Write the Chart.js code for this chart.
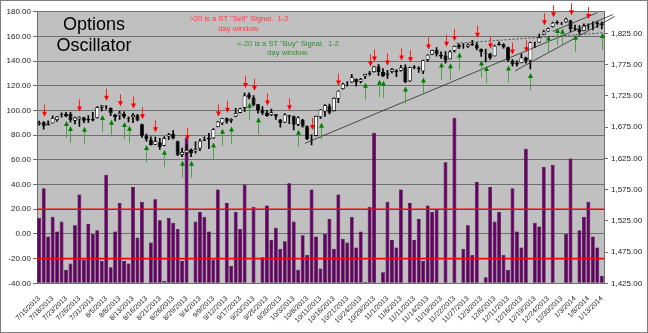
<!DOCTYPE html>
<html>
<head>
<meta charset="utf-8">
<script src="https://cdn.jsdelivr.net/npm/chart.js@4.4.0/dist/chart.umd.min.js"></script>
<style>
  html, body { margin: 0; padding: 0; background: #fff; }
  #wrap { position: relative; width: 646px; height: 331px; border: 1px solid #7f7f7f; }
  canvas { display: block; }
  .note { position: absolute; font-family: "Liberation Sans", Arial, sans-serif; text-align: center; white-space: pre; }
</style>
</head>
<body>
<div id="wrap">
  <canvas id="osc" width="646" height="331"></canvas>
  <div class="note" style="left:33px; top:13px; width:120px; font-size:18px; line-height:21px; color:#000;">Options
Oscillator</div>
  <div class="note" style="left:163px; top:12.5px; width:150px; font-size:7.6px; line-height:10px; color:#ff3b3b;">&gt;20 is a ST "Sell" Signal.  1-2
day window.</div>
  <div class="note" style="left:212px; top:37.5px; width:150px; font-size:7.6px; line-height:9.5px; color:#2f8f2f;">&lt;-20 is a ST "Buy" Signal.  1-2
day window.</div>
</div>
<script>
// trading days shown on the category axis
const dates = [
  "7/15/2013","7/16/2013","7/17/2013","7/18/2013","7/19/2013","7/22/2013","7/23/2013","7/24/2013","7/25/2013","7/26/2013",
  "7/29/2013","7/30/2013","7/31/2013","8/1/2013","8/2/2013","8/5/2013","8/6/2013","8/7/2013","8/8/2013","8/9/2013",
  "8/12/2013","8/13/2013","8/14/2013","8/15/2013","8/16/2013","8/19/2013","8/20/2013","8/21/2013","8/22/2013","8/23/2013",
  "8/26/2013","8/27/2013","8/28/2013","8/29/2013","8/30/2013","9/3/2013","9/4/2013","9/5/2013","9/6/2013","9/9/2013",
  "9/10/2013","9/11/2013","9/12/2013","9/13/2013","9/16/2013","9/17/2013","9/18/2013","9/19/2013","9/20/2013","9/23/2013",
  "9/24/2013","9/25/2013","9/26/2013","9/27/2013","9/30/2013","10/1/2013","10/2/2013","10/3/2013","10/4/2013","10/7/2013",
  "10/8/2013","10/9/2013","10/10/2013","10/11/2013","10/14/2013","10/15/2013","10/16/2013","10/17/2013","10/18/2013","10/21/2013",
  "10/22/2013","10/23/2013","10/24/2013","10/25/2013","10/28/2013","10/29/2013","10/30/2013","10/31/2013","11/1/2013","11/4/2013",
  "11/5/2013","11/6/2013","11/7/2013","11/8/2013","11/11/2013","11/12/2013","11/13/2013","11/14/2013","11/15/2013","11/18/2013",
  "11/19/2013","11/20/2013","11/21/2013","11/22/2013","11/25/2013","11/26/2013","11/27/2013","11/29/2013","12/2/2013","12/3/2013",
  "12/4/2013","12/5/2013","12/6/2013","12/9/2013","12/10/2013","12/11/2013","12/12/2013","12/13/2013","12/16/2013","12/17/2013",
  "12/18/2013","12/19/2013","12/20/2013","12/23/2013","12/24/2013","12/26/2013","12/27/2013","12/30/2013","12/31/2013","1/2/2014",
  "1/3/2014","1/6/2014","1/7/2014","1/8/2014","1/9/2014","1/10/2014","1/13/2014"
];

// options oscillator, left axis (bars below -40 fall off the plot)
const oscillator = [
  13, 37, -2, 14, 2, 10, -29, -24, 7, 32,
  -21, 8, 0, 3, -22, 48, -27, 2, 25, -22,
  -24, 38, -3, 26, -45, -7, 28, 11, -38, 13,
  9, 4, -22, 78, -45, 10, 18, 14, 2, -21,
  36, -45, 25, -26, 18, 4, 40, -45, 22, -45,
  -19, 23, -5, 5, -12, -6, 41, 10, -29, -1,
  -17, 36, -2, -28, 0, 12, -12, 32, -4, -7,
  14, -11, 2, -39, 22, 82, -45, -31, 26, -5,
  -11, 36, -45, 25, -5, 12, -22, 23, 18, 19.5,
  -45, 58, -45, 94, -45, -12, 7, -17, 42, -45,
  -35, 38, 10, 18, -17, -29, 37, 2, -11, 69,
  -45, 9, 6, 54.5, -45, 56, -45, -45, 0, 61,
  -45, 3, 14, 26, -2, -11, -34
];

// S&P 500 daily candles, right axis
const spxOpen = [
  1679.6, 1682.7, 1677.9, 1681.1, 1686.2, 1694.4, 1696.1, 1696.1, 1685.2, 1687.3,
  1690.3, 1687.9, 1687.8, 1689.4, 1706.1, 1708.0, 1705.8, 1695.3, 1693.4, 1696.1,
  1688.4, 1690.7, 1693.9, 1679.6, 1661.2, 1655.3, 1646.8, 1650.7, 1645.0, 1659.9,
  1664.3, 1652.5, 1630.3, 1633.5, 1638.9, 1635.9, 1640.7, 1653.3, 1657.4, 1656.9,
  1675.1, 1681.0, 1689.2, 1685.0, 1691.7, 1697.7, 1705.7, 1727.3, 1722.4, 1711.4,
  1702.6, 1698.0, 1694.1, 1695.5, 1687.3, 1682.4, 1691.9, 1692.4, 1678.8, 1687.2,
  1676.2, 1656.9, 1660.9, 1691.1, 1699.9, 1709.2, 1700.5, 1720.2, 1736.0, 1745.2,
  1746.5, 1752.3, 1747.5, 1756.0, 1759.4, 1762.9, 1772.3, 1763.2, 1758.7, 1763.4,
  1765.7, 1765.0, 1770.7, 1748.4, 1770.0, 1769.5, 1764.4, 1782.8, 1790.7, 1798.8,
  1790.8, 1789.6, 1783.5, 1797.2, 1806.3, 1802.9, 1803.5, 1808.0, 1806.6, 1800.1,
  1794.1, 1792.8, 1788.4, 1806.2, 1807.6, 1802.8, 1781.7, 1778.0, 1777.5, 1786.5,
  1781.5, 1809.0, 1810.4, 1822.9, 1828.0, 1835.0, 1843.0, 1841.5, 1842.6, 1845.9,
  1833.2, 1832.3, 1828.7, 1837.9, 1839.0, 1840.1, 1841.3
];
const spxHigh = [
  1684.5, 1683.7, 1684.8, 1693.1, 1692.1, 1697.6, 1698.4, 1698.4, 1690.9, 1691.9,
  1690.9, 1693.2, 1698.4, 1707.9, 1709.7, 1709.2, 1705.8, 1695.3, 1700.2, 1699.4,
  1691.5, 1696.8, 1695.5, 1679.6, 1663.6, 1659.2, 1658.9, 1656.9, 1659.6, 1664.9,
  1669.5, 1652.5, 1641.2, 1646.4, 1640.1, 1651.4, 1655.7, 1659.2, 1664.8, 1672.4,
  1684.1, 1689.1, 1689.9, 1688.7, 1704.9, 1705.5, 1729.4, 1729.9, 1725.2, 1711.4,
  1707.6, 1701.7, 1703.9, 1695.5, 1687.3, 1696.6, 1693.9, 1692.4, 1691.9, 1687.2,
  1676.8, 1662.4, 1692.6, 1703.4, 1711.0, 1711.6, 1721.8, 1733.4, 1745.3, 1747.8,
  1759.3, 1752.3, 1753.0, 1759.8, 1764.0, 1772.1, 1775.2, 1768.5, 1765.7, 1768.8,
  1767.0, 1773.7, 1774.5, 1770.8, 1773.4, 1771.8, 1782.0, 1791.0, 1798.2, 1802.3,
  1795.5, 1795.7, 1797.2, 1804.8, 1808.1, 1808.4, 1808.3, 1813.6, 1810.0, 1800.1,
  1799.8, 1792.8, 1806.0, 1811.5, 1808.5, 1803.0, 1783.0, 1780.9, 1792.2, 1786.8,
  1811.1, 1810.9, 1823.8, 1829.8, 1833.3, 1842.8, 1844.9, 1842.5, 1849.4, 1845.9,
  1838.2, 1837.2, 1840.1, 1840.0, 1843.2, 1843.9, 1843.5
];
const spxLow = [
  1677.9, 1671.8, 1677.9, 1681.1, 1684.1, 1690.7, 1691.1, 1683.0, 1680.1, 1676.0,
  1681.9, 1682.4, 1684.9, 1689.4, 1700.7, 1703.6, 1693.3, 1684.9, 1687.4, 1689.4,
  1683.4, 1682.2, 1684.8, 1658.6, 1652.6, 1646.1, 1646.8, 1639.4, 1645.0, 1654.8,
  1656.0, 1629.1, 1627.5, 1630.9, 1627.5, 1633.4, 1637.4, 1653.1, 1640.6, 1656.9,
  1675.1, 1678.7, 1681.0, 1682.2, 1691.7, 1697.7, 1700.2, 1720.2, 1708.9, 1697.1,
  1694.9, 1691.9, 1693.1, 1687.1, 1675.0, 1682.1, 1680.3, 1670.4, 1677.3, 1674.7,
  1655.0, 1646.5, 1660.9, 1688.5, 1692.1, 1695.9, 1700.5, 1714.1, 1735.7, 1740.6,
  1746.5, 1740.5, 1745.5, 1752.5, 1757.7, 1762.9, 1757.2, 1755.7, 1752.7, 1761.6,
  1755.8, 1764.4, 1746.2, 1747.6, 1767.9, 1762.3, 1760.6, 1780.2, 1790.7, 1788.4,
  1784.7, 1777.2, 1783.5, 1794.7, 1800.6, 1800.8, 1802.6, 1805.8, 1798.6, 1787.9,
  1779.1, 1783.4, 1788.4, 1806.2, 1801.4, 1780.1, 1772.3, 1772.5, 1777.5, 1777.2,
  1768.0, 1802.0, 1810.4, 1822.9, 1828.0, 1835.0, 1839.8, 1838.8, 1842.4, 1827.7,
  1829.1, 1823.7, 1828.7, 1831.4, 1830.4, 1834.4, 1832.0
];
const spxClose = [
  1682.5, 1676.3, 1680.9, 1689.4, 1692.1, 1695.5, 1692.4, 1685.9, 1690.3, 1691.7,
  1685.3, 1686.0, 1685.7, 1706.9, 1709.7, 1707.1, 1697.4, 1690.9, 1697.5, 1691.4,
  1689.5, 1694.2, 1685.4, 1661.3, 1655.8, 1646.1, 1652.4, 1642.8, 1657.0, 1663.5,
  1656.8, 1630.5, 1635.0, 1638.2, 1633.0, 1639.8, 1653.1, 1655.1, 1655.2, 1671.7,
  1684.0, 1689.1, 1683.4, 1688.0, 1697.6, 1704.8, 1725.5, 1722.3, 1709.9, 1701.8,
  1697.4, 1692.8, 1698.7, 1691.8, 1681.6, 1695.0, 1693.9, 1678.7, 1690.5, 1676.1,
  1655.5, 1656.4, 1692.6, 1703.2, 1710.1, 1698.1, 1721.5, 1733.2, 1744.5, 1744.7,
  1754.7, 1746.4, 1752.1, 1759.8, 1762.1, 1772.0, 1763.3, 1756.5, 1761.6, 1767.9,
  1763.0, 1770.5, 1747.2, 1770.6, 1771.9, 1767.7, 1782.0, 1790.6, 1798.2, 1791.5,
  1787.9, 1781.4, 1795.9, 1804.8, 1802.5, 1802.8, 1807.2, 1805.8, 1800.9, 1795.2,
  1792.8, 1785.0, 1805.1, 1808.4, 1802.6, 1782.2, 1775.5, 1775.3, 1786.5, 1781.0,
  1810.7, 1809.6, 1818.3, 1828.0, 1833.3, 1842.0, 1841.4, 1841.1, 1848.4, 1832.0,
  1831.4, 1826.8, 1837.9, 1837.5, 1838.1, 1842.4, 1838.0
];

const sellLevel = 20;
const buyLevel = -20;
const priceTicks = [1425, 1475, 1525, 1575, 1625, 1675, 1725, 1775, 1825];

// hand-drawn trend lines: [day index, price] at each end
const trendSolid = [
  [[59.5, 1649], [128.5, 1855]],
  [[106.6, 1765], [128.9, 1852]],
  [[115.0, 1828], [125.0, 1858]]
];
const trendDotted = [
  [[93.5, 1809], [126.5, 1826]]
];

const plotBg = {
  id: 'plotBg',
  beforeDraw(chart) {
    const { ctx, chartArea: a } = chart;
    ctx.save();
    ctx.fillStyle = '#c0c0c0';
    ctx.fillRect(a.left, a.top, a.right - a.left, a.bottom - a.top);
    ctx.restore();
  }
};

// red signal levels on the oscillator axis, then the trend lines on the price axis
const levelsAndTrends = {
  id: 'levelsAndTrends',
  afterDatasetsDraw(chart) {
    const { ctx, chartArea: a, scales } = chart;
    const x = scales.x, y = scales.y, yR = scales.yR;
    ctx.save();
    ctx.strokeStyle = '#ff0000';
    ctx.lineWidth = 1.6;
    [sellLevel, buyLevel].forEach((lvl) => {
      const py = y.getPixelForValue(lvl);
      ctx.beginPath();
      ctx.moveTo(a.left, py);
      ctx.lineTo(a.right, py);
      ctx.stroke();
    });
    const draw = (t, dash) => {
      ctx.setLineDash(dash);
      ctx.beginPath();
      ctx.moveTo(x.getPixelForValue(t[0][0]), yR.getPixelForValue(t[0][1]));
      ctx.lineTo(x.getPixelForValue(t[1][0]), yR.getPixelForValue(t[1][1]));
      ctx.stroke();
    };
    ctx.strokeStyle = '#2b2b2b';
    ctx.lineWidth = 0.8;
    trendSolid.forEach((t) => draw(t, []));
    trendDotted.forEach((t) => draw(t, [2, 2]));
    ctx.restore();
  }
};

function arrow(ctx, x, from, to, shaft, head) {
  const dir = Math.sign(to - from);
  ctx.strokeStyle = shaft;
  ctx.lineWidth = 1;
  ctx.beginPath();
  ctx.moveTo(x, from);
  ctx.lineTo(x, to - dir * 4);
  ctx.stroke();
  ctx.fillStyle = head;
  ctx.beginPath();
  ctx.moveTo(x - 2.5, to - dir * 5);
  ctx.lineTo(x + 2.5, to - dir * 5);
  ctx.lineTo(x, to);
  ctx.closePath();
  ctx.fill();
}

// red arrow over the candle on a sell reading, green under it on a buy reading
const signalArrows = {
  id: 'signalArrows',
  afterDatasetsDraw(chart) {
    const { ctx, scales } = chart;
    const x = scales.x, yR = scales.yR;
    ctx.save();
    oscillator.forEach((v, i) => {
      const px = Math.round(x.getPixelForValue(i)) + 0.5;
      if (v > sellLevel) {
        const tip = yR.getPixelForValue(spxHigh[i]) - 5;
        arrow(ctx, px, tip - 12, tip, '#ff2020', '#ff0000');
      } else if (v < buyLevel) {
        const tip = yR.getPixelForValue(spxLow[i]) + 4;
        arrow(ctx, px, tip + 17, tip, '#4f9f4f', '#008000');
      }
    });
    ctx.restore();
  }
};

const tickFont = { family: '"Liberation Sans", Arial, sans-serif', size: 8 };

new Chart(document.getElementById('osc'), {
  type: 'bar',
  data: {
    labels: dates,
    datasets: [
      {
        label: 'S&P 500',
        data: spxOpen.map((o, i) => [o, spxClose[i]]),
        yAxisID: 'yR',
        backgroundColor: spxClose.map((c, i) => (c >= spxOpen[i] ? '#ffffff' : '#000000')),
        borderColor: '#000000',
        borderWidth: 0.8,
        borderSkipped: false,
        grouped: false,
        barPercentage: 0.9,
        categoryPercentage: 1,
        order: 1
      },
      {
        label: 'range',
        data: spxLow.map((l, i) => [l, spxHigh[i]]),
        yAxisID: 'yR',
        backgroundColor: '#000000',
        barThickness: 1,
        grouped: false,
        order: 2
      },
      {
        label: 'Options Oscillator',
        data: oscillator,
        yAxisID: 'y',
        base: -40,
        backgroundColor: '#660066',
        borderColor: '#2a002a',
        borderWidth: 0.6,
        borderSkipped: false,
        grouped: false,
        barPercentage: 0.86,
        categoryPercentage: 1,
        order: 3
      }
    ]
  },
  options: {
    responsive: false,
    animation: false,
    events: [],
    layout: { padding: { top: 10.7, left: 0, right: 0, bottom: 0 } },
    plugins: { legend: { display: false }, tooltip: { enabled: false } },
    scales: {
      x: {
        type: 'category',
        offset: true,
        grid: { display: false },
        border: { display: false },
        ticks: {
          autoSkip: false,
          maxRotation: 45,
          minRotation: 45,
          padding: 3,
          color: '#222',
          font: { family: tickFont.family, size: 7 },
          callback: function (v, i) { return i % 3 === 0 ? this.getLabelForValue(v) : ''; }
        },
        afterFit: (s) => { s.height = 48.7; }
      },
      y: {
        position: 'left',
        min: -40,
        max: 180,
        grid: { color: '#6f6f6f', tickLength: 4 },
        border: { color: '#6f6f6f' },
        ticks: { stepSize: 20, padding: 2, color: '#222', font: tickFont, callback: (v) => v.toFixed(2) },
        afterFit: (s) => { s.width = 36; }
      },
      yR: {
        position: 'right',
        min: 1425,
        max: 1859.6,
        afterBuildTicks: (s) => { s.ticks = priceTicks.map((value) => ({ value })); },
        grid: { drawOnChartArea: false, color: '#6f6f6f', tickLength: 4 },
        border: { color: '#6f6f6f' },
        ticks: {
          padding: 3, color: '#222', font: tickFont,
          callback: (v) => v.toLocaleString('en-US', { minimumFractionDigits: 2, maximumFractionDigits: 2 })
        },
        afterFit: (s) => { s.width = 43; }
      }
    }
  },
  plugins: [plotBg, levelsAndTrends, signalArrows]
});
</script>
</body>
</html>
